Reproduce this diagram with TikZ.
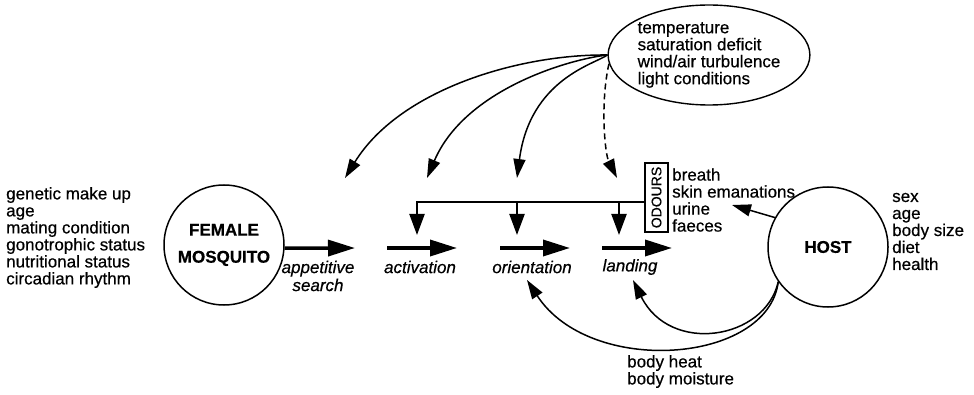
\documentclass[tikz,border=0pt]{standalone}
\usepackage{fontspec}
\setmainfont{Liberation Sans}[FakeBold=0.5]
\usepackage{graphicx}
\usetikzlibrary{arrows.meta,shapes.geometric}
\begin{document}
\begin{tikzpicture}[x=1pt,y=1pt,
  txt/.style={font=\fontsize{17}{17}\selectfont, align=left, inner sep=0pt},
  lbl/.style={font=\fontsize{17}{18}\selectfont\itshape, inner sep=0pt, align=center},
  bigc/.style={draw, circle, line width=1.5pt, minimum size=120pt, inner sep=0pt,
               font=\fontsize{17}{27}\selectfont\bfseries, align=center},
  stagearr/.style={line width=3.5pt, -{Triangle[length=27pt,width=16pt]}},
  downarr/.style={line width=2.2pt, line join=miter, -{Triangle[length=21pt,width=15pt]}},
  thinarr/.style={line width=1.5pt, -{Triangle[length=19pt,width=12pt]}},
  dasharr/.style={line width=1.5pt, dash pattern=on 6pt off 4pt, -{Triangle[length=19pt,width=12pt]}}
  ]
\fill[white] (0,0) rectangle (974,394);
\useasboundingbox (0,0) rectangle (974,394);

% main nodes
\node[bigc] (F) at (224,149) {FEMALE\\MOSQUITO};
\node[bigc] (H) at (828,147) {HOST};
\node[draw, ellipse, line width=1.4pt, minimum width=192pt, minimum height=100pt,
      txt] (E) at (709,339) {temperature\\saturation deficit\\wind/air turbulence\\light conditions};
\node[draw, line width=1.4pt, minimum width=23pt, minimum height=69pt, inner sep=0pt]
      (od) at (656.5,196.5) {\rotatebox{90}{\fontsize{14}{14}\selectfont ODOURS}};

% text lists
\node[txt, anchor=west] (mq) at (6,156.5) {genetic make up\\age\\mating condition\\gonotrophic status\\nutritional status\\circadian rhythm};
\node[txt, anchor=west] (hs) at (892,162.5) {sex\\age\\body size\\diet\\health};
\node[txt, anchor=west] (ot) at (672,194) {breath\\skin emanations\\urine\\faeces};
\node[txt, anchor=west] (bh) at (627,22.5) {body heat\\body moisture};

% stage labels
\node[lbl] (l1) at (318,118) {appetitive\\search};
\node[lbl] (l2) at (420,127) {activation};
\node[lbl] (l3) at (532,127) {orientation};
\node[lbl] (l4) at (630,127) {landing};

% stage arrows
\coordinate (a1e) at (355,146);
\coordinate (a2s) at (387,146); \coordinate (a2e) at (457,146);
\coordinate (a3s) at (500,146); \coordinate (a3e) at (570,146);
\coordinate (a4s) at (602,146); \coordinate (a4e) at (672,146);
\draw[stagearr] (F.-3) -- (a1e);
\draw[stagearr] (a2s) -- (a2e);
\draw[stagearr] (a3s) -- (a3e);
\draw[stagearr] (a4s) -- (a4e);

% odours distribution
\coordinate (j1) at (417,192); \coordinate (j2) at (517,192); \coordinate (j3) at (619,192);
\coordinate (d1) at (417,159); \coordinate (d2) at (517,159); \coordinate (d3) at (619,159);
\draw[downarr] (od.west |- j1) -- (j1) -- (d1);
\draw[downarr] (j2) -- (d2);
\draw[downarr] (j3) -- (d3);

% environment arrows
\coordinate (t1) at (345,216); \coordinate (t2) at (427,216);
\coordinate (t3) at (517,216); \coordinate (t4) at (617,216);
\draw[thinarr] (E.west) .. controls (520,340) and (400,305) .. (t1);
\draw[thinarr] (E.west) .. controls (570,335) and (465,305) .. (t2);
\draw[thinarr] (E.west) .. controls (595,330) and (530,315) .. (t3);
\draw[dasharr] (E.185) .. controls (600,290) and (605,240) .. (t4);

% host arrows
\coordinate (sk) at (732,189);
\draw[thinarr] (H.151) -- (sk);
\coordinate (ot3) at (527,114);
\coordinate (lt4) at (633,114);
\draw[thinarr] (H.215) .. controls (768,30) and (590,17) .. (ot3);
\draw[thinarr] (H.215) .. controls (765,54) and (670,39) .. (lt4);
\end{tikzpicture}
\end{document}
